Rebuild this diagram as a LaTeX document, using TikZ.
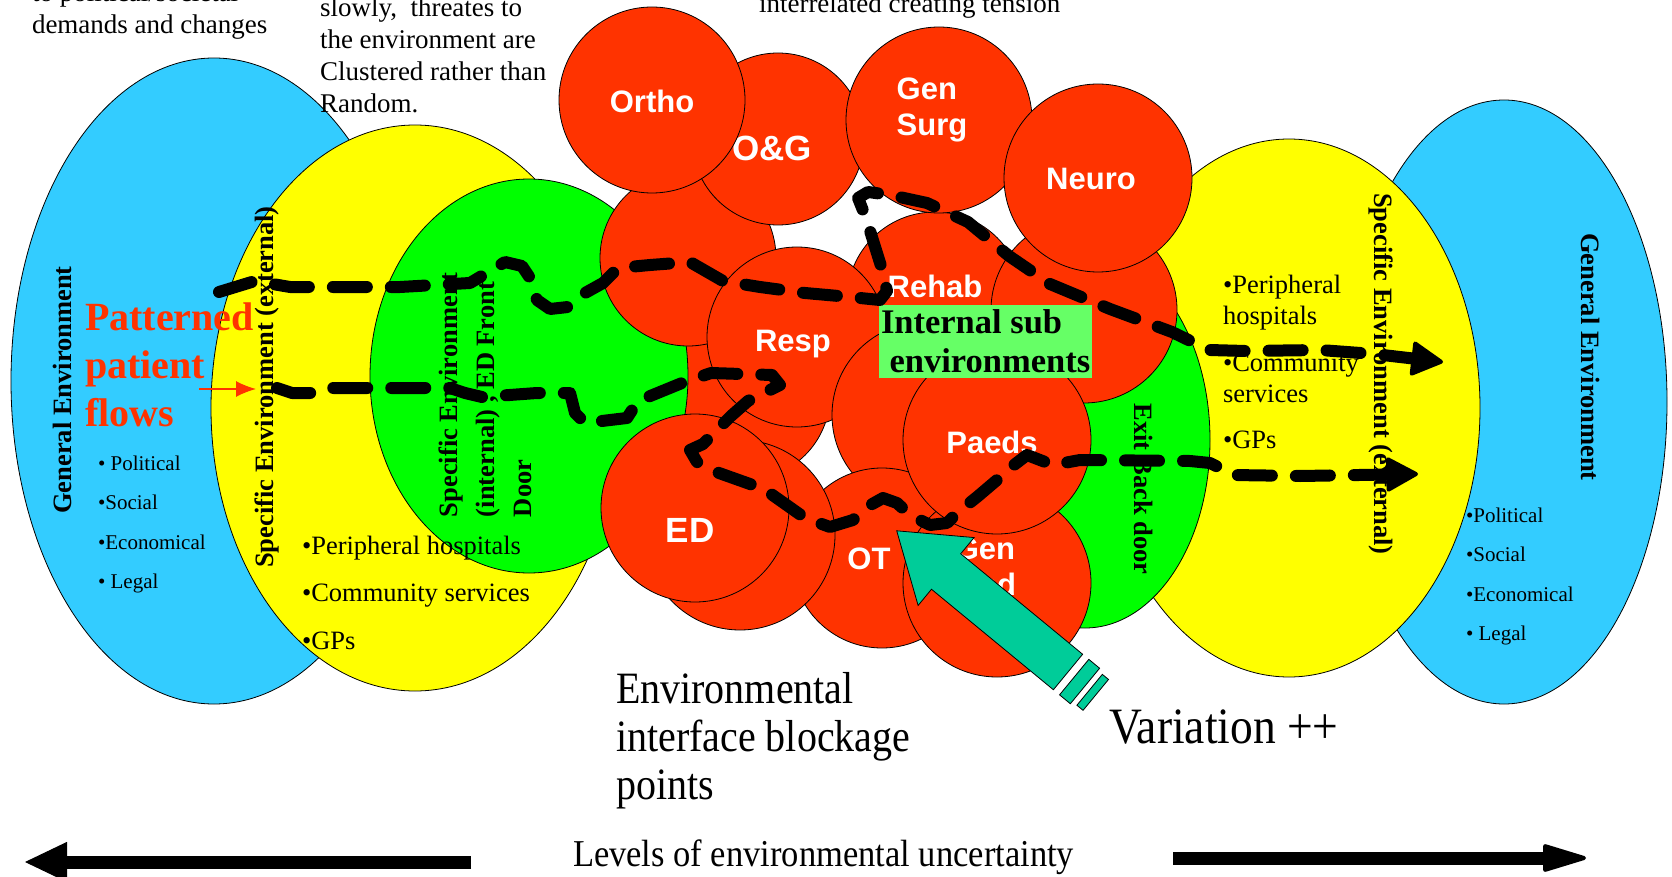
\documentclass[tikz,border=0pt]{standalone}
\usepackage{fontspec}
\setmainfont{Liberation Serif}
\newfontfamily\wardfont{Liberation Sans}
\usetikzlibrary{shapes.geometric,arrows.meta}
\definecolor{skyblue}{HTML}{33CCFF}
\definecolor{envyellow}{HTML}{FFFF00}
\definecolor{envgreen}{HTML}{00FF00}
\definecolor{wardred}{HTML}{FF3300}
\definecolor{subgreen}{HTML}{66FF66}
\definecolor{pushteal}{HTML}{00CC99}
\newcommand{\setfs}[2]{\fontsize{#1}{#2}\selectfont}
\begin{document}
\begin{tikzpicture}[x=1pt,y=-1pt,inner sep=0pt,outer sep=0pt,
envzone/.style={draw,ellipse,line width=0.8pt},
ward/.style={draw,circle,fill=wardred,line width=0.8pt},
wardname/.style={text=white,align=left,font=\wardfont\bfseries\setfs{31}{36}},
envtitle/.style={font=\bfseries\setfs{26.5}{37}},
notes/.style={anchor=north west,align=left,font=\setfs{27}{32}},
stretched/.style={yscale=1.12,transform shape},
patientflow/.style={line width=12pt,line cap=round,line join=round,dash pattern=on 34pt off 24pt}]

\useasboundingbox (0,0) rectangle (1672,877);
\clip (0,0) rectangle (1672,877);
\fill[white] (0,0) rectangle (1672,877);

\draw (214,381) node[envzone,fill=skyblue,minimum width=406pt,minimum height=646pt] (genL) {};
\draw (415,408) node[envzone,fill=envyellow,minimum width=408pt,minimum height=566pt] (specL) {};
\draw (745,395) node[ward,minimum size=170pt] (wardC) {};
\draw (529,376) node[envzone,fill=envgreen,minimum width=318pt,minimum height=394pt] (frontdoor) {};
\draw (1504,402) node[envzone,fill=skyblue,minimum width=326pt,minimum height=604pt] (genR) {};
\draw (1289,408) node[envzone,fill=envyellow,minimum width=382pt,minimum height=538pt] (specR) {};
\draw (1085,440) node[envzone,fill=envgreen,minimum width=250pt,minimum height=376pt] (backdoor) {};

\draw (688,258) node[ward,minimum size=176pt] (wardA) {};
\draw (778,139) node[ward,minimum size=172pt] (og) {};
\draw (og) ++(-6,9) node[wardname,font=\wardfont\bfseries\setfs{35}{40}] (ogname) {O\&G};
\draw (652,100) node[ward,minimum size=186pt] (ortho) {};
\draw (ortho) ++(0,1) node[wardname] (orthoname) {Ortho};
\draw (935,300) node[ward,minimum size=176pt] (rehab) {};
\draw (rehab) ++(0,-14) node[wardname] (rehabname) {Rehab};
\draw (939,120) node[ward,minimum size=186pt] (gensurg) {};
\draw (gensurg) ++(-7,-10) node[wardname] (gensurgname) {Gen\\Surg};
\draw (1084,310) node[ward,minimum size=186pt] (wardB) {};
\draw (1098,178) node[ward,minimum size=188pt] (neuro) {};
\draw (neuro) ++(-7,1) node[wardname] (neuroname) {Neuro};
\draw (797,337) node[ward,minimum size=180pt] (resp) {};
\draw (resp) ++(-4,7) node[wardname] (respname) {Resp};
\draw (925,415) node[ward,minimum size=186pt] (wardD) {};
\draw (882,558) node[ward,minimum size=180pt] (ot) {};
\draw (ot) ++(-13,1) node[wardname] (otname) {OT};
\draw (997,583) node[ward,minimum size=188pt] (genmed) {};
\draw (genmed) ++(-12,-16) node[wardname,align=center] (genmedname) {Gen\\Med};
\draw (997,440) node[ward,minimum size=188pt] (paeds) {};
\draw (paeds) ++(-5,2) node[wardname] (paedsname) {Paeds};
\draw (740,535) node[ward,minimum size=190pt] (wardE) {};
\draw (695,508) node[ward,minimum size=188pt] (ed) {};
\draw (ed) ++(-5,22) node[wardname,font=\wardfont\bfseries\setfs{35}{40}] (edname) {ED};

\draw (879,305) node[fill=subgreen,anchor=north west,align=left,inner xsep=2pt,inner ysep=5pt,font=\bfseries\setfs{34.5}{39}] (subenv) {Internal sub\\~environments};

\draw (62,390) node[envtitle,rotate=90] (genLtext) {General Environment};
\draw (267,387) node[envtitle,rotate=90] (specLtext) {Specific Environment (external)};
\draw (485,517) node[envtitle,rotate=90,anchor=west,align=left] (frontdoortext) {Specific Environment\\(internal) , ED Front\\Door};
\draw (1144,489) node[envtitle,rotate=-90] (backdoortext) {Exit Back door};
\draw (1381,374) node[envtitle,rotate=-90] (specRtext) {Specific Environment (external)};
\draw (1591,357) node[envtitle,rotate=-90] (genRtext) {General Environment};

\draw (98,456) node[notes,font=\setfs{21}{39.3}] (pestL) {• Political\\•Social\\•Economical\\• Legal};
\draw (1466,508) node[notes,font=\setfs{21}{39.3}] (pestR) {•Political\\•Social\\•Economical\\• Legal};
\draw (302,536) node[notes,font=\setfs{26.5}{47.5}] (localL) {•Peripheral hospitals\\•Community services\\•GPs};
\draw (1223,275) node[notes,font=\setfs{26.5}{31}] (localR) {•Peripheral\\hospitals\\[16pt]•Community\\services\\[15pt]•GPs};

\draw (85,303) node[notes,text=wardred,font=\bfseries\setfs{40}{48}] (patterned) {Patterned\\patient\\flows};
\coordinate (cueA) at (199,389);
\coordinate (cueB) at (256,389);
\draw[wardred,line width=1.4pt,-{Latex[length=20pt,width=16pt]}] (cueA) -- (cueB);

\draw (32,-17) node[notes] (societynote) {to political/societal\\demands and changes};
\draw (320,-2) node[notes] (threatnote) {slowly, \ threates to\\the environment are\\Clustered rather than\\Random.};
\draw (759,13) node[anchor=base west,font=\setfs{27}{32}] (tensionnote) {interrelated creating tension};

\coordinate (flowAin) at (219,292);
\coordinate (flowAout) at (1443,362);
\draw[patientflow,-{Triangle[length=34pt,width=36pt,round,line width=4pt]}] (flowAin) -- (255,281) -- (290,287) -- (400,287) -- (470,283) -- (490,271) -- (505,262) -- (522,266) -- (530,278) -- (537,300) -- (550,309) -- (568,307) -- (585,293) -- (603,283) -- (618,268) -- (650,265) -- (690,262) -- (723,281) -- (760,287) -- (805,293) -- (850,297) -- (880,300) -- (887,291) -- (881,266) -- (866,218) -- (858,198) -- (868,192) -- (890,195) -- (927,203) -- (968,222) -- (1009,256) -- (1050,284) -- (1110,309) -- (1172,332) -- (1209,350) -- (1246,351) -- (1320,350) -- (1374,354) -- (flowAout);
\coordinate (flowBin) at (277,388);
\coordinate (flowBout) at (1418,474);
\draw[patientflow,-{Triangle[length=34pt,width=36pt,round,line width=4pt]}] (flowBin) -- (292,393) -- (312,393) -- (325,388) -- (450,388) -- (465,393) -- (482,397) -- (537,393) -- (570,393) -- (575,413) -- (585,423) -- (627,418) -- (638,401) -- (682,383) -- (711,373) -- (772,375) -- (780,385) -- (748,401) -- (731,416) -- (703,444) -- (690,450) -- (697,462) -- (719,473) -- (764,489) -- (805,518) -- (830,527) -- (853,520) -- (865,508) -- (883,498) -- (897,503) -- (910,515) -- (930,525) -- (947,523) -- (957,513) -- (977,497) -- (997,480) -- (1010,468) -- (1027,455) -- (1053,465) -- (1080,460) -- (1190,461) -- (1210,463) -- (1222,469) -- (1232,475) -- (1300,476) -- (flowBout);

\begin{scope}[shift={(1068,672)},rotate=140.5]
\draw[fill=pushteal,line width=0.8pt] (0,23) -- (158,23) -- (158,44) -- (222,0) -- (158,-44) -- (158,-23) -- (0,-23) -- cycle;
\draw[fill=pushteal,line width=0.8pt] (-8,23) rectangle (-22,-23);
\draw[fill=pushteal,line width=0.8pt] (-28,20) rectangle (-36,-20);
\end{scope}

\draw (616,672) node[notes,stretched,font=\setfs{40}{43}] (blocknote) {Environmental\\interface blockage\\points};
\draw (1109,743) node[anchor=base west,stretched,font=\setfs{45.5}{50}] (variation) {Variation ++};
\draw (573,866) node[anchor=base west,yscale=1.1,transform shape,font=\setfs{34.5}{40}] (levels) {Levels of environmental uncertainty};

\coordinate (lowL) at (471,862);
\coordinate (highL) at (25,862);
\draw[line width=13pt,-{Triangle[length=42pt,width=40pt,line width=1pt]}] (lowL) -- (highL);
\coordinate (lowR) at (1173,858);
\coordinate (highR) at (1586,858);
\draw[line width=13pt,-{Triangle[length=48pt,width=28pt,round,line width=4pt]}] (lowR) -- (highR);
\end{tikzpicture}
\end{document}
